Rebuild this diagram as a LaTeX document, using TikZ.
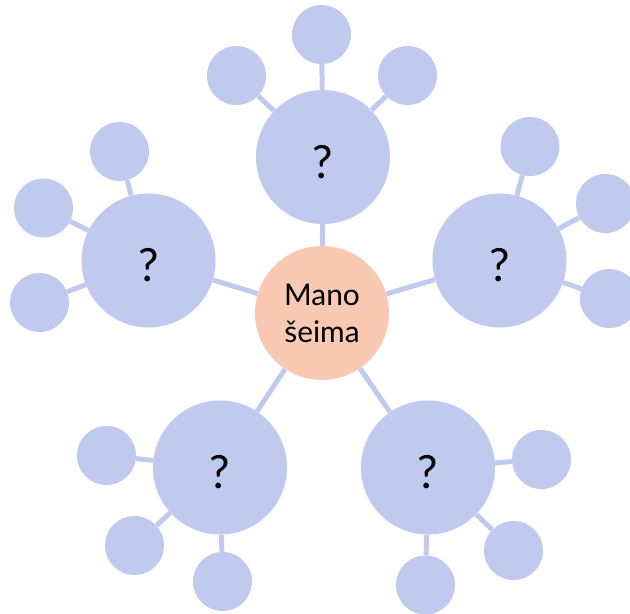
\documentclass[tikz,border=0pt]{standalone}
\usepackage{fontspec}
\setmainfont{Lato}
\usetikzlibrary{positioning}
\definecolor{famBlue}{HTML}{C0CAEE}
\definecolor{famPeach}{HTML}{FAC9B4}
\tikzset{
    hubNode/.style={circle, fill=famPeach, inner sep=0pt, minimum size=4.02cm, align=center, font=\fontsize{25.5}{31.5}\selectfont},
    bigNode/.style={circle, fill=famBlue, inner sep=0pt, minimum size=4.02cm, text height=36pt, text depth=0pt, font=\fontsize{39}{40}\selectfont},
    smallNode/.style={circle, fill=famBlue, inner sep=0pt, minimum size=1.77cm},
    famEdge/.style={draw=famBlue, line width=4.25pt},
}
\newcommand{\famLink}[2]{
    \draw[famEdge] (#1) -- (#2);
}

\begin{document}
\begin{tikzpicture}[x=0.03cm, y=-0.03cm]

        \clip (0,0) rectangle (630,614);

        \node[hubNode] (hub) at (322,313) {Mano\\šeima};

        \node[bigNode] (T) at (323,157) {?};
        \node[bigNode] (L) at (148.5,260.5) {?};
        \node[bigNode] (R) at (499.5,260.5) {?};
        \node[bigNode] (BL) at (220,467.5) {?};
        \node[bigNode] (BR) at (428,467.5) {?};

        \node[smallNode] (T1) at (236.5,75.5) {};
        \node[smallNode] (T2) at (321.5,34.5) {};
        \node[smallNode] (T3) at (407.5,75.5) {};

        \node[smallNode] (L1) at (119.5,151.5) {};
        \node[smallNode] (L2) at (43.5,208) {};
        \node[smallNode] (L3) at (39.5,302.5) {};

        \node[smallNode] (R1) at (530,146.5) {};
        \node[smallNode] (R2) at (605.5,203.5) {};
        \node[smallNode] (R3) at (609.5,298.5) {};

        \node[smallNode] (BL1) at (106.5,455.5) {};
        \node[smallNode] (BL2) at (134.5,545.5) {};
        \node[smallNode] (BL3) at (222.5,581.5) {};

        \node[smallNode] (BR1) at (541.5,459.5) {};
        \node[smallNode] (BR2) at (513.5,550.5) {};
        \node[smallNode] (BR3) at (425.5,585) {};

        \foreach \g in {T, L, R, BL, BR} {
            \famLink{hub}{\g}
            \foreach \i in {1,2,3} {
                \famLink{\g}{\g\i}
            }
        }

    \end{tikzpicture}
\end{document}
